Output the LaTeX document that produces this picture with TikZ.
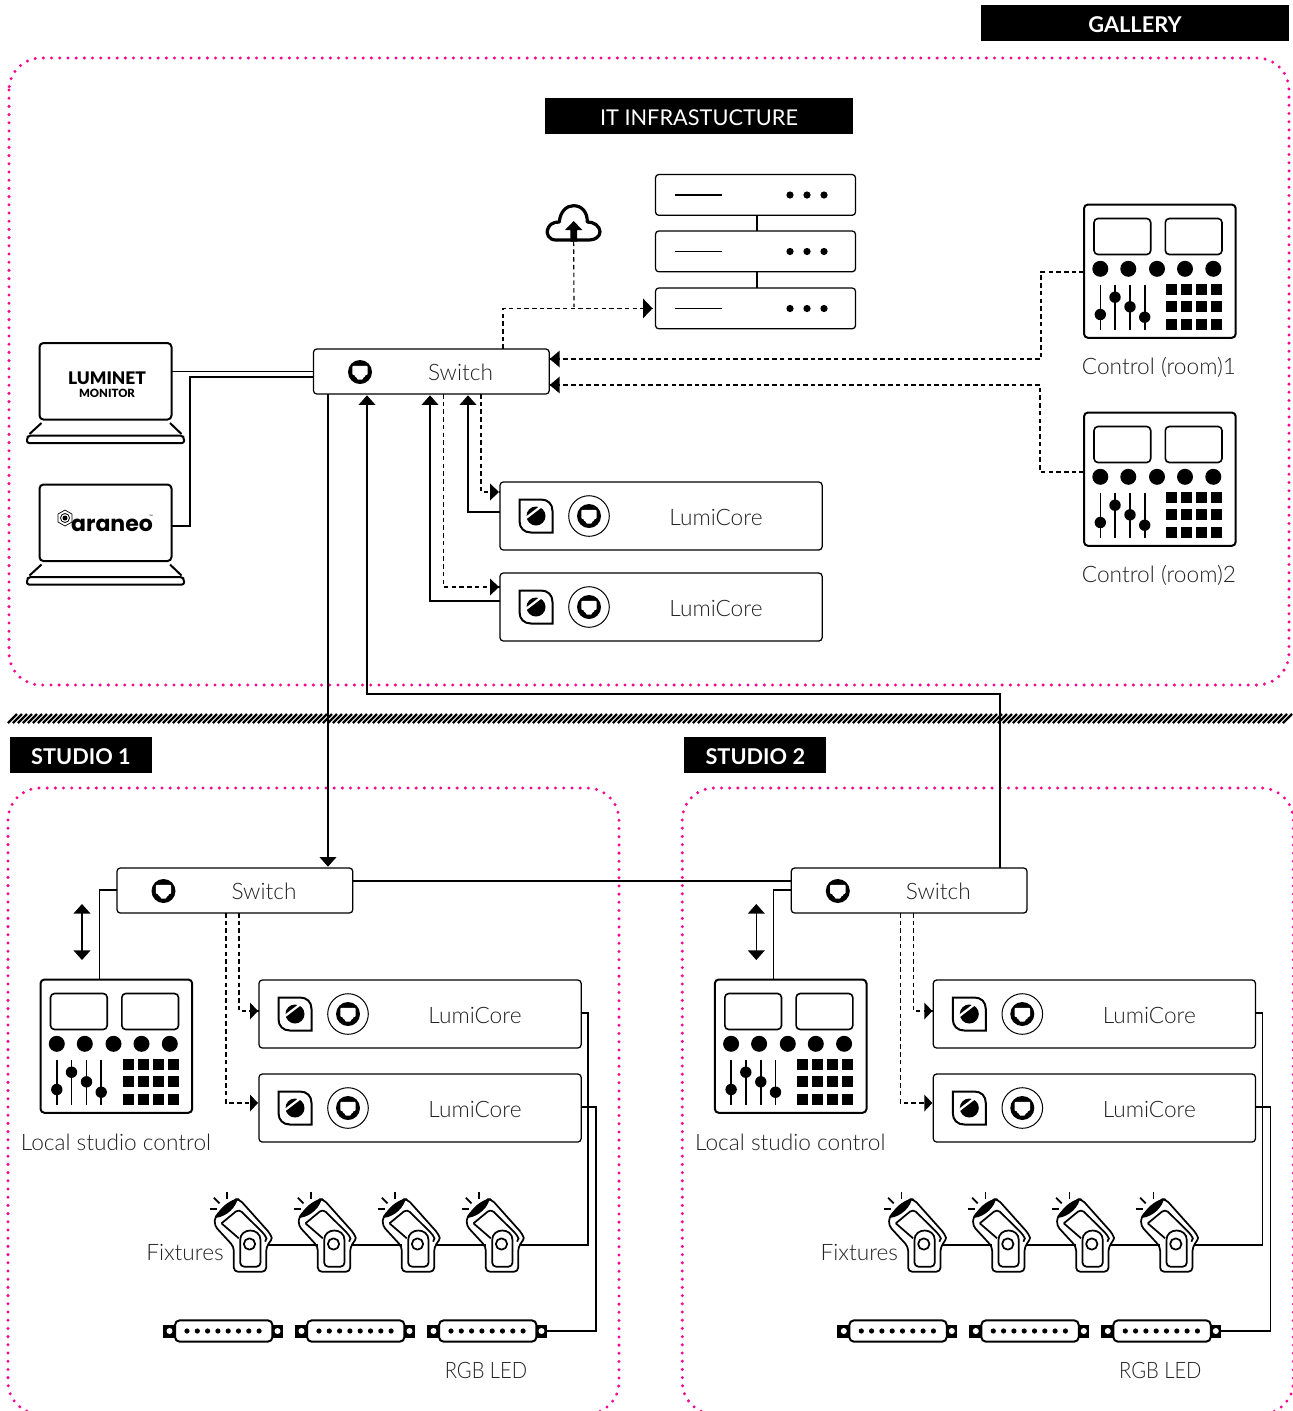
\documentclass[tikz,border=0pt]{standalone}
\usepackage{fontspec}
\setmainfont{Lato}[UprightFont=* Light,BoldFont=* Bold]
\newfontfamily\regfont{Lato}
\newfontfamily\blackfont{Lato Black}
\newfontfamily\logofont{Poppins}[BoldFont=* Bold]
\usetikzlibrary{arrows.meta}
\definecolor{pinkdot}{HTML}{F5078F}
\definecolor{txt}{HTML}{222222}
\tikzset{
  xs/.style={xshift=#1*0.75pt},
  ys/.style={yshift=-#1*0.75pt},
  wire/.style={line width=.95pt,line join=miter},
  dwire/.style={line width=.85pt,dash pattern=on 3.4pt off 2.4pt},
  tip/.style={-{Triangle[length=7.2pt,width=12.6pt]},shorten >=1pt},
  tips/.style={{Triangle[length=7.2pt,width=12.6pt]}-{Triangle[length=7.2pt,width=12.6pt]}},
  dotbox/.style={draw=pinkdot,line width=2.5pt,line cap=round,dash pattern=on 0pt off 6.15pt,rounded corners=24pt},
  tag/.style={fill=black,text=white,inner sep=0pt,outer sep=0pt,text height=14.5pt,text depth=0pt,font=\fontsize{16.3}{20}\selectfont\bfseries},
  tagreg/.style={fill=black,text=white,inner sep=0pt,outer sep=0pt,text height=14.5pt,text depth=0pt,font=\regfont\fontsize{16.3}{20}\selectfont},
  lbl/.style={inner sep=0pt,text=txt,font=\fontsize{17}{20}\selectfont},
  thinbox/.style={draw,line width=.95pt,rounded corners=2.5pt,inner sep=0pt,outer sep=0pt,fill=white},
  thickbox/.style={draw,line width=1.5pt,rounded corners=3pt,inner sep=0pt,outer sep=0pt,fill=white},
}
% RJ45 symbol
\newcommand\portmark{%
  \fill (0,0) circle (12);
  \fill[white,rounded corners=0.7pt] (-7.7,-6.2) -- (7.7,-6.2) -- (7.7,2.8) -- (5.2,2.8) -- (5.2,5.2) -- (3,5.2) -- (3,7.6) -- (-3,7.6) -- (-3,5.2) -- (-5.2,5.2) -- (-5.2,2.8) -- (-7.7,2.8) -- cycle;
}
% switch: name, left, top
\newcommand\switchbox[3]{%
  \node[thinbox,minimum width=176.8pt,minimum height=33.75pt,anchor=north west] (#1) at (#2,#3) {};
  \node[lbl] (#1-t) at (#2+147,#3+23.5) {Switch};
  \begin{scope}[shift={(#2+46.5,#3+23)}]\portmark\end{scope}
}
% LumiCore: name, left, top
\newcommand\lumicore[3]{%
  \node[thinbox,minimum width=241.6pt,minimum height=51pt,anchor=north west] (#1) at (#2,#3) {};
  \node[lbl] (#1-t) at (#2+216,#3+35) {LumiCore};
  \begin{scope}[shift={(#2+36,#3+34)}]
    \draw[line width=1.5pt,line join=miter] (-16.5,-16.5) -- (5,-16.5) .. controls (12,-16.5) and (16.5,-12) .. (16.5,-5) -- (16.5,16.5) -- (-5,16.5) .. controls (-12,16.5) and (-16.5,12) .. (-16.5,5) -- cycle;
    \fill (0,0) circle (9.5);
    \draw[white,line width=1.7pt] (-10,2) -- (7,-11);
  \end{scope}
  \begin{scope}[shift={(#2+89,#3+34)}]
    \draw[line width=.75pt] (0,0) circle (20.3);
    \portmark
  \end{scope}
}
% mixer: name, left, top
\newcommand\mixer[3]{%
  \node[thickbox,minimum width=113.8pt,minimum height=100pt,anchor=north west] (#1) at (#2,#3) {};
  \begin{scope}[shift={(#2,#3)}]
    \draw[line width=1.2pt,rounded corners=3pt] (10,14) rectangle (66.7,50);
    \draw[line width=1.2pt,rounded corners=3pt] (81.3,14) rectangle (138,50);
    \foreach \kx in {16.3,44.3,73,101,129.3} \fill (\kx,64.3) circle (8);
    \foreach \sx/\sy in {16.3/110,31/92.7,46/102.3,60.7/112.7} {
      \draw[line width=1.2pt] (\sx,80) -- (\sx,125);
      \fill (\sx,\sy) circle (5.7);
    }
    \foreach \gx in {82,97,112,127} \foreach \gy in {79,96,114} \fill (\gx,\gy) rectangle (\gx+11,\gy+11);
  \end{scope}
}
% laptop: name, left, top
\newcommand\laptop[3]{%
  \node[thickbox,minimum width=99pt,minimum height=57.4pt,anchor=north west] (#1) at (#2,#3) {};
  \begin{scope}[shift={(#2,#3)}]
    \draw[line width=1.5pt,line join=round,rounded corners=1.5pt] (-11,92.5) -- (143,92.5) -- (144.5,95) -- (144.5,100) -- (-12.5,100) -- (-12.5,95) -- cycle;
    \draw[line width=1.5pt] (2,80) -- (-10,91);
    \draw[line width=1.5pt] (130.5,80) -- (142,91);
  \end{scope}
}
% fixture, origin = centre of the pivot
\newcommand\fixture[3]{%
  \coordinate (#1) at (#2,#3);
  \begin{scope}[shift={(#2,#3)},x=0.25pt,y=-0.25pt,line width=1.3pt,line join=round]
    \draw[rounded corners=3pt] (-47,8) -- (-47,83) -- (50,83) -- (50,10) .. controls (62,-8) and (68,-15) .. (63,-30) -- (-30,-134) -- (-44,-134) -- (-103,-84) -- (-105,-55) -- cycle;
    \draw[rounded corners=3pt] (-28,68) -- (-28,0) .. controls (-28,-50) and (33,-50) .. (33,0) -- (33,68) -- cycle;
    \draw (0,0) circle (17);
    \draw[rounded corners=3pt] (-84,-62) -- (-32,-105) -- (47,-27) .. controls (50,-20) and (50,-12) .. (47,-7);
    \draw (-84,-62) -- (-32,-17);
    \fill (-103,-78) .. controls (-92,-105) and (-65,-130) .. (-36,-136) .. controls (-38,-115) and (-65,-82) .. (-103,-78) -- cycle;
    \draw (-67,-156) -- (-67,-136);
    \draw (-107,-139) -- (-90,-122);
    \draw (-120,-104) -- (-98,-104);
  \end{scope}
}
% connector bar: name, left
\newcommand\ledbar[3]{%
  \node[thickbox,minimum width=73.1pt,minimum height=16pt,rounded corners=3.5pt,anchor=west] (#1) at (#2+12,#3) {};
  \begin{scope}[shift={(#2,#3)}]
    \fill (0,-6.5) rectangle (12,6.5);
    \fill (109.7,-6.5) rectangle (119.7,6.5);
    \fill[white] (6.5,0) circle (3);
    \fill[white] (114.5,0) circle (3);
    \foreach \dx in {0,...,7} \fill (24+\dx*10.3,0) circle (2.6);
  \end{scope}
}
% a whole studio, drawn in the frame of studio 1
\newcommand\studio[3]{%
  \begin{scope}[name prefix=#1-,xshift=#2*0.75pt]
    \draw[dotbox] (8,788) rectangle (619,1414);
    \node[tag,minimum width=106.5pt,minimum height=27pt,anchor=north west] (tag) at (10,737) {#3};
    \switchbox{sw}{117}{868}
    \mixer{mix}{40.5}{979.5}
    \node[lbl] (mixt) at (116,1142) {Local studio control};
    \lumicore{lc1}{259}{980}
    \lumicore{lc2}{259}{1074}
    \draw[wire] ([ys=22]sw.north west) -| ([xs=59]mix.north west);
    \coordinate (dtop) at (82,904);
    \coordinate (dbot) at (82,960);
    \draw[wire,tips] (dtop) -- (dbot);
    \draw[dwire] ([xs=122]sw.south west) |- ([ys=31]lc1.north west) coordinate[pos=1] (e1);
    \draw[dwire] ([xs=109]sw.south west) |- ([ys=29]lc2.north west) coordinate[pos=1] (e2);
    \fill ([xs=-9,ys=-8.5]e1) -- ([xs=-1,ys=0]e1) -- ([xs=-9,ys=8.5]e1) -- cycle;
    \fill ([xs=-9,ys=-8.5]e2) -- ([xs=-1,ys=0]e2) -- ([xs=-9,ys=8.5]e2) -- cycle;
    \fixture{f1}{249.5}{1244}
    \fixture{f2}{333.5}{1244}
    \fixture{f3}{417.5}{1244}
    \fixture{f4}{501.5}{1244}
    \draw[wire] ([xs=18,ys=1]f1) -- ([xs=-16,ys=1]f2);
    \draw[wire] ([xs=18,ys=1]f2) -- ([xs=-16,ys=1]f3);
    \draw[wire] ([xs=18,ys=1]f3) -- ([xs=-16,ys=1]f4);
    \node[lbl] (ft) at (185,1252) {Fixtures};
    \ledbar{b1}{163}{1331}
    \ledbar{b2}{295}{1331}
    \ledbar{b3}{427}{1331}
    \node[lbl,font=\addfontfeature{FakeStretch=0.89}\fontsize{17}{20}\selectfont] (rgb) at (486,1370) {RGB LED};
    \coordinate (b3end) at (546,1331);
    \draw[wire] ([ys=33]lc1.north east) -| (588,1245) -- ([xs=18,ys=1]f4);
    \draw[wire] ([ys=33]lc2.north east) -| (596,1331) -- (b3end);
  \end{scope}
}
\begin{document}
\begin{tikzpicture}[x=0.75pt,y=-0.75pt]
\useasboundingbox (0,0) rectangle (1293,1411);
\clip (0,0) rectangle (1293,1411);
\fill[white] (0,0) rectangle (1293,1411);
\node[tag,minimum width=231pt,minimum height=27pt,anchor=north west] (gallery) at (981,5) {GALLERY};
\draw[dotbox] (9,58) rectangle (1289,685);
\node[tagreg,minimum width=231pt,minimum height=27pt,anchor=north west] (infra) at (545,98) {IT INFRASTUCTURE};
% hatching
\foreach \hx in {8,13,...,1283} \draw[line width=1.7pt] (\hx,723) -- (\hx+9,714);
% servers
\foreach \n/\sy in {srva/174.5,srvb/231,srvc/288} {
  \node[thinbox,minimum width=150pt,minimum height=30.6pt,anchor=north west] (\n) at (655.5,\sy) {};
  \draw[line width=.9pt] (675,\sy+20.5) -- (722,\sy+20.5);
  \foreach \dx in {790,807,824} \fill (\dx,\sy+20.5) circle (3.6);
}
\draw[wire] ([xs=101.5]srva.south west) -- ([xs=101.5]srvb.north west);
\draw[wire] ([xs=101.5]srvb.south west) -- ([xs=101.5]srvc.north west);
% cloud
\begin{scope}[shift={(530,190)},x=0.25pt,y=-0.25pt]
  \draw[line width=2.4pt,line join=round] (78,150) .. controls (55,150) and (50,130) .. (52,122) .. controls (54,105) and (70,95) .. (88,96) .. controls (90,65) and (110,47) .. (130,47) .. controls (155,47) and (172,65) .. (172,96) .. controls (190,95) and (210,108) .. (210,125) .. controls (210,140) and (195,150) .. (178,150) -- cycle;
  \fill (105,120) -- (131,93) -- (157,120) -- (141,120) -- (141,155) -- (121,155) -- (121,120) -- cycle;
  \coordinate (cloud) at (131,155);
\end{scope}
% switch and laptops
\switchbox{sw}{313.5}{349}
\laptop{lapa}{39.5}{343}
\laptop{lapb}{39.5}{484.5}
\node[inner sep=0pt,font=\blackfont\fontsize{13}{14}\selectfont] (luminet) at (107,378) {LUMINET};
\node[inner sep=0pt,font=\blackfont\fontsize{8.5}{10}\selectfont] (monitor) at (107,393) {MONITOR};
\node[inner sep=0pt,font=\logofont\fontsize{16.5}{18}\selectfont\bfseries] (araneo) at (112,525) {araneo};
\node[inner sep=0pt,font=\regfont\fontsize{3.5}{4}\selectfont] (tmark) at (151,517) {™};
\begin{scope}[shift={(65,518)}]
  \draw[line width=.5pt] (0,-8) -- (7,-4) -- (7,4) -- (0,8) -- (-7,4) -- (-7,-4) -- cycle;
  \draw[line width=.6pt] (0,0) circle (4.5);
  \fill (0,0) circle (2.5);
\end{scope}
\draw[wire] (lapa.east |- sw.west) -- (sw.west);
\draw[wire] ([ys=28]sw.north west) -| (190,526) -- ([ys=41.5]lapb.north east);
% lumicores
\lumicore{lca}{500}{482}
\lumicore{lcb}{500}{573}
% controls
\mixer{ctla}{1084}{204.5}
\mixer{ctlb}{1084}{412.5}
\node[lbl] (ctlat) at (1159,367) {Control (room)1};
\node[lbl] (ctlbt) at (1159,575) {Control (room)2};
% studios
\studio{s1}{0}{STUDIO 1}
\studio{s2}{674.3}{STUDIO 2}
% connectors of the infrastructure
\draw[dwire] (cloud) -- (574,307);
\draw[dwire] ([xs=189.5]sw.north west) |- (srvc.west) coordinate[pos=1] (srvend);
\fill ([xs=-12.5,ys=-10]srvend) -- ([xs=-3,ys=0]srvend) -- ([xs=-12.5,ys=10]srvend) -- cycle;
\draw[dwire] (ctla.west |- 1084,272) -| (1041,359) -- ([ys=10]sw.north east) coordinate[pos=1] (ca);
\draw[dwire] (ctlb.west |- 1084,472) -| (1040,385) -- ([ys=36]sw.north east) coordinate[pos=1] (cb);
\fill ([xs=10.5,ys=-8.5]ca) -- ([xs=.5,ys=0]ca) -- ([xs=10.5,ys=8.5]ca) -- cycle;
\fill ([xs=10.5,ys=-8.5]cb) -- ([xs=.5,ys=0]cb) -- ([xs=10.5,ys=8.5]cb) -- cycle;
\draw[dwire] ([xs=167.5]sw.south west) |- ([ys=10]lca.north west) coordinate[pos=1] (da);
\draw[dwire] ([xs=130]sw.south west) |- ([ys=14]lcb.north west) coordinate[pos=1] (db);
\fill ([xs=-10,ys=-8.5]da) -- ([xs=-1,ys=0]da) -- ([xs=-10,ys=8.5]da) -- cycle;
\fill ([xs=-10,ys=-8.5]db) -- ([xs=-1,ys=0]db) -- ([xs=-10,ys=8.5]db) -- cycle;
\draw[wire,tip] ([ys=30]lca.north west) -| ([xs=154.5]sw.south west);
\draw[wire,tip] ([ys=28]lcb.north west) -| ([xs=116.5]sw.south west);
% links between the floors
\draw[wire,tip] ([xs=14.5]sw.south west) -- ([xs=211]s1-sw.north west);
\draw[wire,tip] ([xs=208.7]s2-sw.north west) |- (367,694) -- ([xs=53.5]sw.south west);
\draw[wire] ([ys=13]s1-sw.north east) -- ([ys=13]s2-sw.north west);
\end{tikzpicture}
\end{document}
